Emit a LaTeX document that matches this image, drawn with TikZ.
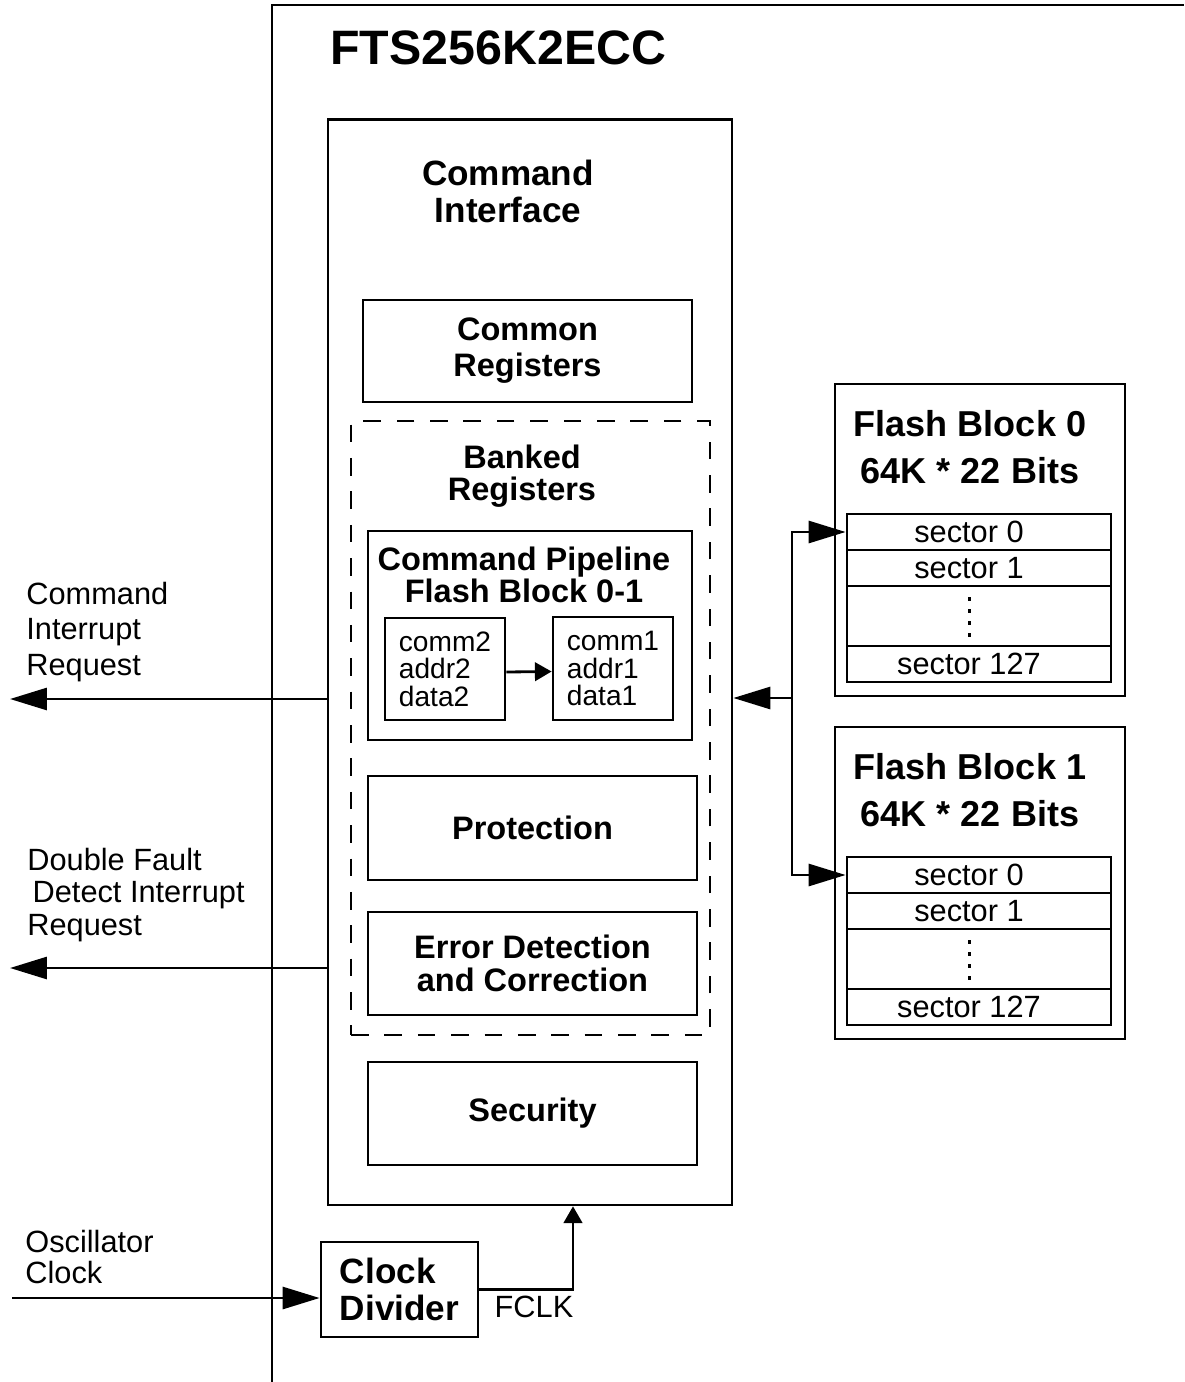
\documentclass[tikz,border=0pt]{standalone}
\usepackage{fontspec}
\setmainfont{Liberation Sans}
\usetikzlibrary{arrows.meta,positioning}

\newcommand{\fsize}[2]{\fontsize{#1}{#2}\selectfont}

\begin{document}
\begin{tikzpicture}[
    x=0.02cm, y=-0.02cm,
    line width=1.6pt,
    box/.style={draw, line width=1.6pt, inner sep=0pt, align=center},
    bigbold/.style={font=\fsize{20}{21}\bfseries, align=center, inner sep=0pt},
    midbold/.style={font=\fsize{18.5}{18.5}\bfseries, align=center},
    regtxt/.style={font=\fsize{16}{15.6}, align=left},
    sigtxt/.style={font=\fsize{17.5}{20}, align=left, inner sep=0pt},
    sectxt/.style={font=\fsize{17.5}{20}, inner sep=0pt},
    bigarr/.style={-{Triangle[length=21pt,width=12.5pt]}, line width=1.6pt},
    smallarr/.style={-{Triangle[length=9.5pt,width=10.5pt]}, line width=1.6pt}
]
    \useasboundingbox (0,0) rectangle (1184,1382);

    % Module frame (open to the right and bottom)
    \draw (272,1382) -- (272,5) -- (1184,5);
    \node[anchor=west, inner sep=0pt, font=\fsize{27.5}{30}\bfseries] (title) at (329,48) {FTS256K2ECC};

    % Command interface
    \node[box, minimum width=8.08cm, minimum height=21.72cm] (cmdif) at (530,662) {};
    \node[bigbold] (cmdiftxt) at (508,191) {Command\\Interface};
    \node[box, midbold, font=\fsize{18.5}{20.5}\bfseries, minimum width=6.58cm, minimum height=2.04cm] (common) at (527.5,351) {Common\\Registers};

    % Banked registers
    \node[box, line width=1.4pt, dash pattern=on 10pt off 9pt, minimum width=7.18cm, minimum height=12.28cm] (banked) at (530.5,728) {};
    \node[midbold, inner sep=0pt] (bankedtxt) at (522,476) {Banked\\Registers};

    % Command pipeline
    \node[box, minimum width=6.48cm, minimum height=4.18cm] (pipe) at (530,635.5) {};
    \node[midbold, inner sep=0pt] (pipetxt) at (524,575) {Command Pipeline\\Flash Block 0-1};
    \node[box, regtxt, minimum width=2.4cm, minimum height=2.04cm] (comm2) at (445,669) {comm2\\addr2\\data2};
    \node[box, regtxt, minimum width=2.4cm, minimum height=2.06cm] (comm1) at (613,668.5) {comm1\\addr1\\data1};
    \draw[smallarr] ([yshift=-0.06cm]comm2.east) -- ([yshift=-0.06cm]comm1.west);

    \node[box, midbold, minimum width=6.58cm, minimum height=2.08cm] (protect) at (532.5,828) {Protection};
    \node[box, midbold, minimum width=6.58cm, minimum height=2.06cm] (ecc) at (532.5,963.5) {Error Detection\\and Correction};
    \node[box, midbold, minimum width=6.58cm, minimum height=2.06cm] (security) at (532.5,1113.5) {Security};

    % Clock divider
    \node[box, font=\fsize{20}{21}\bfseries, align=left, minimum width=3.14cm, minimum height=1.9cm] (clkdiv) at (399.5,1289.5) {Clock\\Divider};
    \coordinate (fclk) at (573,1289);
    \draw[smallarr] (clkdiv.east) -| (fclk |- cmdif.south);
    \node[sectxt] (fclktxt) at (534,1307) {FCLK};

    % Flash blocks
    \foreach \k/\dy in {0/0, 1/343} {
        \node[box, minimum width=5.8cm, minimum height=6.24cm] (fb\k) at (980,540+\dy) {};
        \node[bigbold, font=\fsize{20.5}{26.6}\bfseries] (fbtxt\k) at (970,447+\dy) {Flash Block \k\\64K * 22 Bits};
        \node[box, minimum width=5.28cm, minimum height=0.72cm] (sec\k-0) at (979,532+\dy) {};
        \node[box, minimum width=5.28cm, minimum height=0.72cm] (sec\k-1) at (979,568+\dy) {};
        \node[box, minimum width=5.28cm, minimum height=1.2cm] (gap\k) at (979,616+\dy) {};
        \node[box, minimum width=5.28cm, minimum height=0.72cm] (sec\k-127) at (979,664+\dy) {};
        \node[sectxt] (lab\k-0) at (969,532+\dy) {sector 0};
        \node[sectxt] (lab\k-1) at (969,568+\dy) {sector 1};
        \node[sectxt] (lab\k-127) at (969,664+\dy) {sector 127};
        \foreach \j in {0,...,3}
            \fill (967.5,597+12*\j+\dy) rectangle ++(3,3.5);
    }

    % Flash bus
    \coordinate (bus) at (792,698);
    \draw[{Triangle[length=21pt,width=12.5pt]}-{Triangle[length=21pt,width=12.5pt]}] (sec0-0.west) -| (bus) |- (sec1-0.west);
    \draw[bigarr] (bus) -- (bus -| cmdif.east);

    % Interrupt outputs
    \coordinate (cirq) at (10,699);
    \coordinate (dfirq) at (10,968);
    \draw[bigarr] (cmdif.west |- cirq) -- (cirq);
    \draw[bigarr] (cmdif.west |- dfirq) -- (dfirq);
    \node[sigtxt, anchor=west] (cirqtxt) at (25,632) {Command\\Interrupt\\Request};
    \node[sigtxt, anchor=west, font=\fsize{17.5}{18.7}] (dfirqtxt) at (26,895) {Double Fault\\\hspace*{3pt}Detect Interrupt\\Request};

    % Oscillator input
    \coordinate (osc) at (12,1298);
    \draw[bigarr] (osc) -- (osc -| clkdiv.west);
    \node[sigtxt, anchor=west, font=\fsize{17.5}{18}] (osctxt) at (24,1257) {Oscillator\\Clock};
\end{tikzpicture}
\end{document}
